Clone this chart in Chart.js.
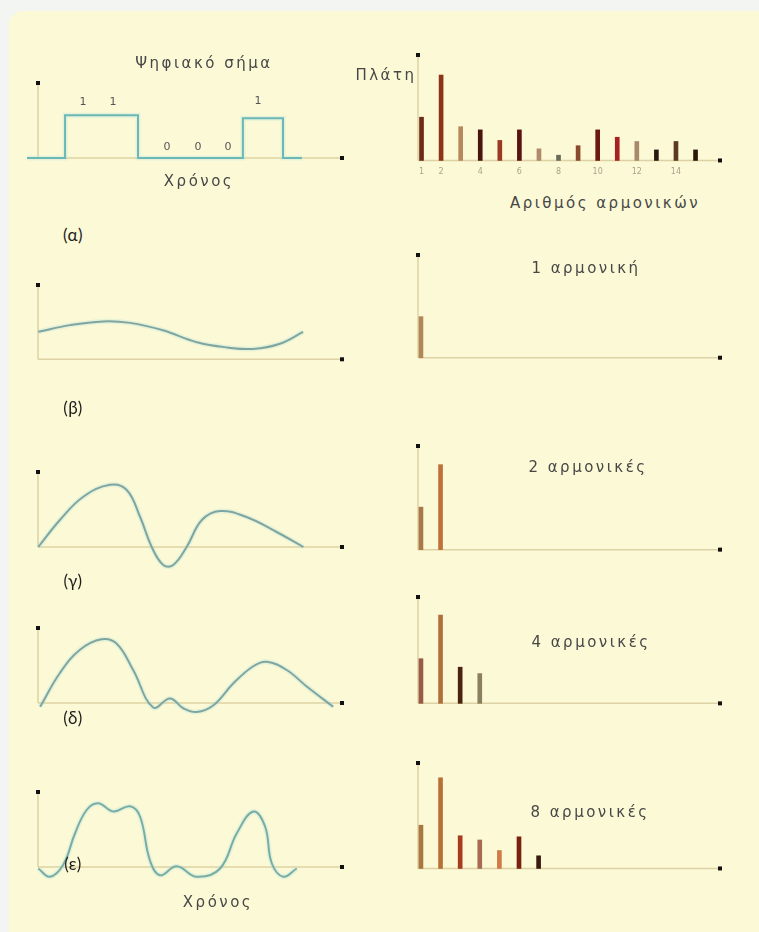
<!DOCTYPE html>
<html>
<head>
<meta charset="utf-8">
<script src="https://cdn.jsdelivr.net/npm/chart.js@4/dist/chart.umd.min.js"></script>
<style>
  html, body { margin: 0; padding: 0; }
  body { width: 759px; height: 932px; background: #f2f5f1; position: relative; overflow: hidden; }
  #panel { position: absolute; left: 9px; top: 11px; right: -20px; bottom: -20px; background: #fcf9d6; border-top-left-radius: 14px; }
  canvas { position: absolute; }
  .lbl { position: absolute; transform: translate(-50%, -50%); white-space: nowrap; font-family: "DejaVu Sans", sans-serif; color: #474747; font-size: 15px; letter-spacing: 2.5px; }
  .bit { font-size: 11px; letter-spacing: 0; color: #555; }
  .tag { font-family: "Lato", "DejaVu Sans", sans-serif; font-size: 17px; color: #1e1e1e; letter-spacing: 0.5px; }
</style>
</head>
<body>
<div id="panel"></div>

<script>
// --- δεδομένα ---
// αρμονικές (αριθμός) και πλάτη
const harmonics = [1, 2, 3, 4, 5, 6, 7, 8, 9, 10, 11, 12, 13, 14, 15];
const harmonicTicks = [1, 2, 4, 6, 8, 10, 12, 14];
const spectrumA = [0.41, 0.81, 0.32, 0.29, 0.19, 0.29, 0.11, 0.05, 0.14, 0.29, 0.22, 0.18, 0.10, 0.18, 0.10];
const spectrumB = [0.40];
const spectrumC = [0.41, 0.82];
const spectrumD = [0.42, 0.83, 0.34, 0.28];
const spectrumE = [0.41, 0.86, 0.31, 0.27, 0.17, 0.30, 0.12];

// ψηφιακό σήμα (χρόνος / τιμή)
const timeA = [-3.6, 8.9, 8.9, 32.9, 32.9, 67.4, 67.4, 80.6, 80.6, 86.8];
const signalA = [0, 0, 0.57, 0.57, 0, 0, 0.53, 0.53, 0, 0];
const bitLabels = ['1', '1', '0', '0', '0', '1'];

// 1 αρμονική
const timeB = [0.1, 10.5, 21.4, 30.3, 41.1, 52.3, 62.2, 70.7, 79.6, 87.2];
const waveB = [0.37, 0.46, 0.51, 0.49, 0.39, 0.23, 0.16, 0.14, 0.21, 0.37];

// 2 αρμονικές
const timeC = [0.1, 7.2, 14.9, 23.7, 29.2, 33.6, 37.4, 41.2, 44.5, 48.9, 53.9, 59.9, 68.6, 78.5, 87.3];
const waveC = [0.0, 0.36, 0.67, 0.83, 0.76, 0.40, 0.0, -0.24, -0.24, 0.0, 0.36, 0.48, 0.40, 0.20, 0.0];

// 4 αρμονικές
const timeD = [0.7, 7.2, 13.8, 20.9, 25.9, 31.3, 37.9, 43.4, 47.8, 52.2, 57.7, 64.2, 70.8, 75.2, 81.8, 88.4, 97.1];
const waveD = [-0.05, 0.40, 0.71, 0.85, 0.79, 0.44, -0.06, 0.06, -0.07, -0.12, -0.03, 0.26, 0.49, 0.55, 0.44, 0.22, -0.05];

// 8 αρμονικές
const timeE = [0.1, 3.9, 8.3, 12.2, 16.0, 19.8, 24.8, 30.3, 33.6, 36.8, 40.1, 45.6, 52.2, 59.9, 65.4, 70.8, 74.7, 76.9, 80.7, 85.1];
const waveE = [-0.02, -0.13, 0.03, 0.45, 0.76, 0.85, 0.74, 0.81, 0.67, 0.09, -0.11, 0.01, -0.13, -0.02, 0.45, 0.74, 0.54, 0.05, -0.13, -0.02];

// χρώματα ράβδων
const colorsA = ['#6e2a18', '#8c3418', '#b48a5c', '#4a1410', '#9a3a22', '#5a1212', '#b08a6a', '#6a6a5a',
                 '#8a4a2c', '#6a1a10', '#a82020', '#a88a6a', '#2a1a10', '#5a3a20', '#2a1a0a'];
const colorsB = ['#b08858'];
const colorsC = ['#a87848', '#c0703a'];
const colorsD = ['#9a5a48', '#b0703c', '#4a2410', '#8a8060'];
const colorsE = ['#a87840', '#b87038', '#a83a20', '#a86a50', '#d07a48', '#7a2010', '#3a1a10'];

// άξονες με μαύρο τετραγωνάκι στην άκρη
const axesPlugin = {
    id: 'axes',
    beforeDatasetsDraw(chart, args, opts) {
        const ctx = chart.ctx;
        const area = chart.chartArea;
        const y0 = chart.scales.y.getPixelForValue(0);
        const yTop = chart.scales.y.getPixelForValue(1);
        ctx.save();
        ctx.strokeStyle = '#ddd2a4';
        ctx.lineWidth = 1.5;
        ctx.beginPath();
        ctx.moveTo(area.left, y0);
        ctx.lineTo(area.right, y0);
        ctx.moveTo(area.left, y0);
        ctx.lineTo(area.left, yTop);
        ctx.stroke();
        ctx.fillStyle = '#111';
        ctx.fillRect(area.right - 2, y0 - 2, 4, 4);
        ctx.fillRect(area.left - 2, yTop - 2, 4, 4);
        if (opts.ticks) {
            ctx.fillStyle = '#a9a48a';
            ctx.font = '8px "DejaVu Sans"';
            ctx.textAlign = 'center';
            ctx.textBaseline = 'middle';
            opts.ticks.forEach(v => ctx.fillText(String(v), chart.scales.x.getPixelForValue(v), y0 + 11));
        }
        ctx.restore();
    }
};

const PAD = 20;

function panel(box, type, datasets, xMin, xMax, yMin, ticks) {
    const h = box.baseline - box.top;
    const areaH = h * (1 - yMin);
    const c = document.createElement('canvas');
    c.width = box.right - box.left + 2 * PAD;
    c.height = Math.round(areaH + 2 * PAD);
    c.style.left = (box.left - PAD) + 'px';
    c.style.top = (box.top - PAD) + 'px';
    document.body.appendChild(c);
    new Chart(c.getContext('2d'), {
        type: type,
        data: { datasets: datasets },
        options: {
            responsive: false,
            animation: false,
            layout: { padding: PAD },
            parsing: { xAxisKey: 'x', yAxisKey: 'y' },
            scales: {
                x: { type: 'linear', display: false, offset: false, min: xMin, max: xMax },
                y: { type: 'linear', display: false, min: yMin, max: 1 }
            },
            plugins: {
                legend: { display: false },
                title: { display: false },
                tooltip: { enabled: false },
                axes: { ticks: ticks || null }
            }
        },
        plugins: [axesPlugin]
    });
}

function waveSets(times, values, color, tension) {
    const pts = times.map((t, i) => ({ x: t, y: values[i] }));
    return [
        { data: pts, borderColor: 'rgba(175, 225, 220, 0.3)', borderWidth: 5, pointRadius: 0, tension: tension, clip: false },
        { data: pts, borderColor: color, borderWidth: 2, pointRadius: 0, tension: tension, clip: false }
    ];
}

function barSet(values, colors) {
    return [{
        data: values.map((v, i) => ({ x: harmonics[i], y: v })),
        backgroundColor: colors,
        barThickness: 4,
        borderWidth: 0
    }];
}

// αριστερά: χρόνος
panel({ left: 38, right: 342, top: 83, baseline: 158 }, 'line', waveSets(timeA, signalA, '#4fa7a6', 0), 0, 100, -0.4);
panel({ left: 38, right: 342, top: 285, baseline: 359 }, 'line', waveSets(timeB, waveB, '#6b8c88', 0.4), 0, 100, -0.4);
panel({ left: 38, right: 342, top: 472, baseline: 547 }, 'line', waveSets(timeC, waveC, '#6b8c88', 0.4), 0, 100, -0.4);
panel({ left: 38, right: 342, top: 628, baseline: 703 }, 'line', waveSets(timeD, waveD, '#6b8c88', 0.4), 0, 100, -0.4);
panel({ left: 38, right: 342, top: 792, baseline: 867 }, 'line', waveSets(timeE, waveE, '#5f978f', 0.4), 0, 100, -0.4);

// δεξιά: φάσμα
panel({ left: 418, right: 720, top: 55, baseline: 160 }, 'bar', barSet(spectrumA, colorsA), 0.82, 16.25, -0.1, harmonicTicks);
panel({ left: 418, right: 720, top: 255, baseline: 358 }, 'bar', barSet(spectrumB, colorsB), 0.85, 16.25, -0.1);
panel({ left: 418, right: 720, top: 446, baseline: 550 }, 'bar', barSet(spectrumC, colorsC), 0.85, 16.25, -0.1);
panel({ left: 418, right: 720, top: 597, baseline: 703 }, 'bar', barSet(spectrumD, colorsD), 0.85, 16.25, -0.1);
panel({ left: 418, right: 720, top: 763, baseline: 868 }, 'bar', barSet(spectrumE, colorsE), 0.85, 16.25, -0.1);

// κείμενα
function label(text, x, y, cls) {
    const d = document.createElement('div');
    d.className = 'lbl' + (cls ? ' ' + cls : '');
    d.textContent = text;
    d.style.left = x + 'px';
    d.style.top = y + 'px';
    document.body.appendChild(d);
}

label('Ψηφιακό σήμα', 204, 63);
label('Χρόνος', 199, 181);
label('Πλάτη', 386, 75);
label('Αριθμός αρμονικών', 605, 203);
label('1 αρμονική', 586, 268);
label('2 αρμονικές', 588, 467);
label('4 αρμονικές', 591, 642);
label('8 αρμονικές', 590, 812);
label('Χρόνος', 218, 902);

const bitX = [83, 113, 167, 198, 228, 258];
const bitY = [101, 101, 146, 146, 146, 100];
bitLabels.forEach((b, i) => label(b, bitX[i], bitY[i], 'bit'));

label('(α)', 73, 234, 'tag');
label('(β)', 73, 407, 'tag');
label('(γ)', 73, 580, 'tag');
label('(δ)', 73, 717, 'tag');
label('(ε)', 73, 863, 'tag');
</script>
</body>
</html>
